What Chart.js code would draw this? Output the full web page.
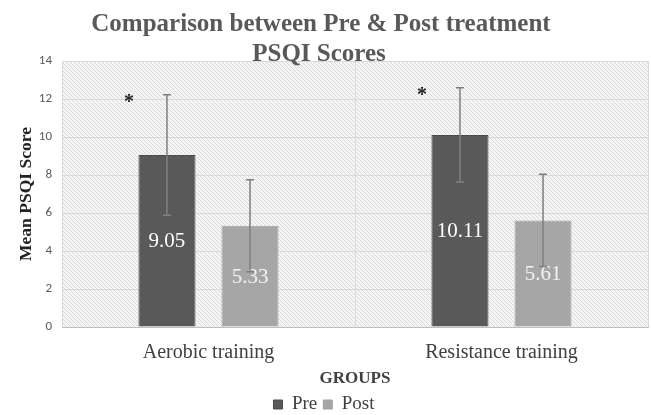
<!DOCTYPE html>
<html>
<head>
<meta charset="utf-8">
<script src="https://cdn.jsdelivr.net/npm/chart.js@4.4.1/dist/chart.umd.min.js"></script>
<style>
    html, body { margin: 0; padding: 0; background: #ffffff; }
    #wrap { width: 651px; height: 415px; position: relative; }
</style>
</head>
<body>
<div id="wrap"><canvas id="chart"></canvas></div>
<script>
// Chart values
const groups = ['Aerobic training', 'Resistance training'];
const preMeans = [9.05, 10.11];
const postMeans = [5.33, 5.61];
const preSD = [3.17, 2.48];
const postSD = [2.42, 2.43];
const significant = [true, true];   // '*' markers next to the Pre bars
const yTicks = [0, 2, 4, 6, 8, 10, 12, 14];

const SERIF = '"Liberation Serif", "Times New Roman", serif';
const SANS = 'Carlito, "Liberation Sans", Arial, sans-serif';

// Light diagonal hatch used as the plot background
function makeHatch() {
    const c = document.createElement('canvas');
    c.width = 4;
    c.height = 4;
    const g = c.getContext('2d');
    g.fillStyle = '#f5f5f5';
    g.fillRect(0, 0, 4, 4);
    g.fillStyle = '#d9d9d9';
    for (let i = 0; i < 4; i++) g.fillRect(i, i, 1, 1);
    return g.createPattern(c, 'repeat');
}

const hatchPlugin = {
    id: 'hatch',
    beforeDraw(chart) {
        const { ctx, chartArea: a } = chart;
        ctx.save();
        ctx.fillStyle = makeHatch();
        ctx.fillRect(a.left, a.top, a.right - a.left, a.bottom - a.top);
        ctx.restore();
    }
};

// Error bars, value labels, asterisks and the two-line title
const overlayPlugin = {
    id: 'overlay',
    afterDatasetsDraw(chart) {
        const { ctx } = chart;
        const y = chart.scales.y;
        const sds = [preSD, postSD];

        ctx.save();
        chart.data.datasets.forEach((ds, di) => {
            const meta = chart.getDatasetMeta(di);
            meta.data.forEach((bar, i) => {
                const v = ds.data[i];
                const x = bar.x;
                const yTop = y.getPixelForValue(v + sds[di][i]);
                const yBot = y.getPixelForValue(v - sds[di][i]);

                // value label in the middle of the bar
                ctx.fillStyle = di === 0 ? '#ffffff' : '#f2f2f2';
                ctx.font = '21px ' + SERIF;
                ctx.textAlign = 'center';
                ctx.textBaseline = 'middle';
                const mid = (bar.y + bar.base) / 2;
                ctx.fillText(v.toFixed(2), x, mid + 1);

                // error bar
                ctx.strokeStyle = '#808080';
                ctx.lineWidth = 1.5;
                ctx.beginPath();
                ctx.moveTo(x, yTop);
                ctx.lineTo(x, yBot);
                ctx.moveTo(x - 4, yTop);
                ctx.lineTo(x + 4, yTop);
                ctx.moveTo(x - 4, yBot);
                ctx.lineTo(x + 4, yBot);
                ctx.stroke();

                if (di === 0 && significant[i]) {
                    ctx.fillStyle = '#222222';
                    ctx.font = 'bold 20px ' + SERIF;
                    ctx.fillText('*', x - 38, yTop + 8);
                }
            });
        });

        // title drawn over the top of the plot like the original
        ctx.fillStyle = '#595959';
        ctx.font = 'bold 25px ' + SERIF;
        ctx.textAlign = 'center';
        ctx.textBaseline = 'middle';
        ctx.fillText('Comparison between Pre & Post treatment', 321, 25);
        ctx.fillText('PSQI Scores', 319, 55);
        ctx.restore();
    }
};

new Chart(document.getElementById('chart'), {
    type: 'bar',
    data: {
        labels: groups,
        datasets: [
            {
                label: 'Pre',
                data: preMeans,
                backgroundColor: '#595959',
                borderColor: '#4a4a4a',
                borderWidth: 1,
                categoryPercentage: 0.567,
                barPercentage: 0.687
            },
            {
                label: 'Post',
                data: postMeans,
                backgroundColor: '#a6a6a6',
                borderColor: '#a0a0a0',
                borderWidth: 1,
                categoryPercentage: 0.567,
                barPercentage: 0.687
            }
        ]
    },
    options: {
        responsive: true,
        maintainAspectRatio: false,
        animation: false,
        layout: {
            padding: { top: 61, right: 3, left: 0, bottom: -9 }
        },
        plugins: {
            legend: {
                position: 'bottom',
                labels: {
                    boxWidth: 9,
                    boxHeight: 9,
                    padding: 6,
                    color: '#404040',
                    font: { family: SERIF, size: 19, lineHeight: 1 }
                }
            },
            tooltip: { enabled: false },
            title: { display: false }
        },
        scales: {
            x: {
                afterFit(axis) {
                    axis.height = 62;
                },
                grid: {
                    color: '#d9d9d9',
                    drawTicks: false
                },
                border: { color: '#bfbfbf' },
                ticks: {
                    color: '#404040',
                    padding: 14,
                    font: { family: SERIF, size: 20 }
                },
                title: {
                    display: true,
                    text: 'GROUPS',
                    color: '#404040',
                    padding: { top: 0, bottom: 0 },
                    font: { family: SERIF, size: 17, weight: 'bold' }
                }
            },
            y: {
                min: 0,
                max: 14,
                afterBuildTicks(axis) {
                    axis.ticks = yTicks.map(v => ({ value: v }));
                },
                afterFit(axis) {
                    axis.width = 62;
                },
                grid: {
                    color: '#d9d9d9',
                    drawTicks: false
                },
                border: { display: false },
                ticks: {
                    color: '#595959',
                    padding: 10,
                    font: { family: SANS, size: 13 }
                },
                title: {
                    display: true,
                    text: 'Mean PSQI Score',
                    color: '#222222',
                    padding: { top: 16, bottom: 0 },
                    font: { family: SERIF, size: 17.5, weight: 'bold' }
                }
            }
        }
    },
    plugins: [hatchPlugin, overlayPlugin]
});
</script>
</body>
</html>
